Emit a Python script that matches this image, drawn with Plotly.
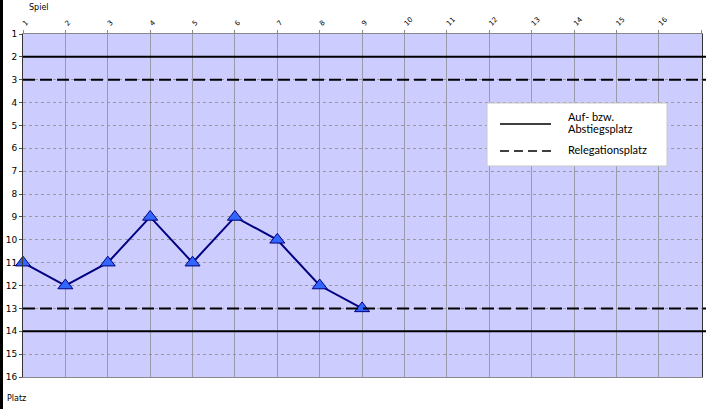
import plotly.graph_objects as go

spiel = [1, 2, 3, 4, 5, 6, 7, 8, 9]
platz = [11, 12, 11, 9, 11, 9, 10, 12, 13]
x_ticks = list(range(1, 18))
y_ticks = list(range(1, 17))
aufabstieg = [2, 14]
relegation = [3, 13]
legend_labels = ["Auf- bzw.", "Abstiegsplatz", "Relegationsplatz"]

BAR = 3                      # black frame strip on the page's left edge
W, H = 706 - BAR, 409
L, R, T, B = 23 - BAR, 4, 34, 32
PW, PH = W - L - R, H - T - B


def px(X):
    # X given in page pixels
    return (X - BAR - L) / PW


def py(Y):
    return (H - B - Y) / PH


DASH = "12px,5px"

fig = go.Figure()
fig.add_trace(go.Scatter(
    x=spiel, y=platz, mode="lines+markers",
    line=dict(color="#000080", width=2),
    marker=dict(symbol="triangle-up", size=13, color="#3366FF",
                line=dict(color="#000080", width=1)),
    showlegend=False, cliponaxis=False))

for yv in aufabstieg:
    fig.add_shape(type="line", xref="paper", yref="y", x0=0, x1=px(706),
                  y0=yv, y1=yv, line=dict(color="black", width=2))
for yv in relegation:
    fig.add_shape(type="line", xref="paper", yref="y", x0=0, x1=px(706),
                  y0=yv, y1=yv, line=dict(color="black", width=2, dash=DASH))

# custom legend box
fig.add_shape(type="rect", xref="paper", yref="paper",
              x0=px(487), x1=px(667), y0=py(166), y1=py(103),
              fillcolor="white", line=dict(color="#C8C8C8", width=1))
fig.add_shape(type="line", xref="paper", yref="paper",
              x0=px(500), x1=px(551), y0=py(124), y1=py(124),
              line=dict(color="black", width=1.5))
fig.add_shape(type="line", xref="paper", yref="paper",
              x0=px(500), x1=px(551), y0=py(151), y1=py(151),
              line=dict(color="black", width=1.5, dash="9px,5px"))

legfont = dict(family="Lato", size=11, color="black")
annotations = [
    dict(text="Spiel", xref="paper", yref="paper", x=px(27), y=py(7),
         xanchor="left", yanchor="middle", showarrow=False, font=dict(size=8)),
    dict(text="Platz", xref="paper", yref="paper", x=px(5), y=py(398),
         xanchor="left", yanchor="middle", showarrow=False, font=dict(size=8)),
    dict(text=legend_labels[0], xref="paper", yref="paper", x=px(566), y=py(117),
         xanchor="left", yanchor="middle", showarrow=False, font=legfont),
    dict(text=legend_labels[1], xref="paper", yref="paper", x=px(566), y=py(128),
         xanchor="left", yanchor="middle", showarrow=False, font=legfont),
    dict(text=legend_labels[2], xref="paper", yref="paper", x=px(566), y=py(149),
         xanchor="left", yanchor="middle", showarrow=False, font=legfont),
]

fig.update_layout(
    width=W, height=H,
    margin=dict(l=L, r=R, t=T, b=B, pad=0),
    paper_bgcolor="white", plot_bgcolor="#CCCCFF",
    font=dict(family="DejaVu Sans", size=9, color="black"),
    showlegend=False,
    xaxis=dict(side="top", range=[1, 17.02], tickvals=x_ticks,
               ticktext=[str(v) for v in x_ticks], tickangle=-45,
               tickfont=dict(size=7), showgrid=True, gridcolor="#9A9AAA",
               gridwidth=1, showline=True, linecolor="#888888", mirror=True,
               ticks="outside", ticklen=3, tickcolor="#888888", zeroline=False,
               automargin=False),
    yaxis=dict(range=[16, 1], tickvals=y_ticks, ticktext=[str(v) for v in y_ticks],
               tickfont=dict(size=9), showgrid=True, gridcolor="#999999",
               griddash="dot", gridwidth=1, showline=True, linecolor="#333333",
               mirror=True, ticks="outside", ticklen=3, tickcolor="#555555",
               zeroline=False, automargin=False),
    annotations=annotations,
)

post = ("document.body.style.margin='0';"
        "document.body.style.overflow='hidden';"
        "document.body.style.borderLeft='3px solid #000';"
        "document.body.style.minHeight='409px';")

fig.write_html("out.html", config={"displayModeBar": False}, post_script=post)
